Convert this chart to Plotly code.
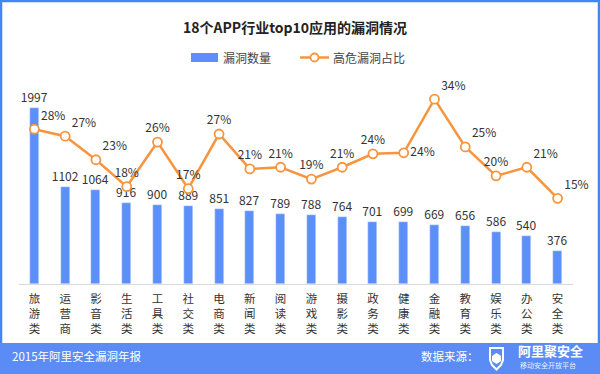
import plotly.graph_objects as go

categories = ["旅游类", "运营商", "影音类", "生活类", "工具类", "社交类", "电商类", "新闻类", "阅读类",
              "游戏类", "摄影类", "政务类", "健康类", "金融类", "教育类", "娱乐类", "办公类", "安全类"]
vuln_counts = [1997, 1102, 1064, 916, 900, 889, 851, 827, 789, 788, 764, 701, 699, 669, 656, 586, 540, 376]
high_risk_pct = [28.3, 27.0, 22.6, 17.6, 25.9, 17.2, 27.4, 20.9, 21.2, 19.0, 21.2, 23.7, 23.9, 33.9, 25.0, 19.6, 21.2, 15.4]
pct_text_pos = ["top right", "top right", "top right", "top center", "top center", "top center",
                "top center", "top center", "top center", "top center", "top center", "top center",
                "middle right", "top right", "top right", "top center", "top right", "top right"]

W, H = 600, 374
L, R, T, B = 19, 573, 90, 284
FONT = "Noto Sans CJK SC"
BAR = "#5b8ff9"
ORANGE = "#f7953f"
FOOT = "#5b8cf5"
BORDER = "#3f87f6"


def px(x):
    return (x - L) / (R - L)


def py(y):
    return (B - y) / (B - T)


fig = go.Figure()
fig.add_trace(go.Bar(
    x=categories, y=vuln_counts, name="漏洞数量", marker_color=BAR, width=0.29,
    text=[str(v) for v in vuln_counts], textposition="outside", constraintext="none",
    textfont=dict(size=12, color="#333333", family=FONT), cliponaxis=False,
))
fig.add_trace(go.Scatter(
    x=categories, y=high_risk_pct, name="高危漏洞占比", yaxis="y2", mode="lines+markers+text",
    line=dict(color=ORANGE, width=2.5),
    marker=dict(size=9, color="white", line=dict(color=ORANGE, width=1.8)),
    texttemplate="%{y:.0f}%", textposition=pct_text_pos,
    textfont=dict(size=12, color="#333333", family=FONT), cliponaxis=False,
))

shapes = []
# footer band
shapes.append(dict(type="rect", xref="paper", yref="paper", x0=px(0), x1=px(600), y0=py(343), y1=py(375),
                   fillcolor=FOOT, line=dict(width=0), layer="below"))
# border
for (x0, y0, x1, y1) in [(0, 1, 600, 1), (1, 0, 1, 343), (599, 0, 599, 343)]:
    shapes.append(dict(type="line", xref="paper", yref="paper", x0=px(x0), x1=px(x1), y0=py(y0), y1=py(y1),
                       line=dict(color=BORDER, width=2.5)))
# legend
shapes.append(dict(type="rect", xref="paper", yref="paper", x0=px(191), x1=px(218), y0=py(53), y1=py(62),
                   fillcolor=BAR, line=dict(width=0)))
shapes.append(dict(type="line", xref="paper", yref="paper", x0=px(300), x1=px(329), y0=py(57.5), y1=py(57.5),
                   line=dict(color=ORANGE, width=2.5)))
shapes.append(dict(type="circle", xref="paper", yref="paper", x0=px(310.5), x1=px(318.5), y0=py(53.5), y1=py(61.5),
                   fillcolor="white", line=dict(color=ORANGE, width=1.8)))


def path_px(pts):
    return "M " + " L ".join(f"{px(a):.5f},{py(b):.5f}" for a, b in pts) + " Z"


# logo shield
shield = [(490, 348), (503, 348), (503, 360), (501, 365), (496.5, 369.5), (492, 365), (490, 360)]
shapes.append(dict(type="path", xref="paper", yref="paper", path=path_px(shield),
                   line=dict(color="white", width=2), fillcolor=FOOT))
hexagon = [(496.5, 353.5), (500.5, 356), (500.5, 361), (496.5, 363.5), (492.5, 361), (492.5, 356)]
shapes.append(dict(type="path", xref="paper", yref="paper", path=path_px(hexagon),
                   line=dict(color="white", width=1), fillcolor="white"))


def ann(text, x, y, size, color, xanchor="left", yanchor="middle"):
    return dict(text=text, x=px(x), y=py(y), xref="paper", yref="paper", xanchor=xanchor, yanchor=yanchor,
                showarrow=False, font=dict(size=size, color=color, family=FONT))


annotations = [
    ann("<b>18个APP行业top10应用的漏洞情况</b>", 295, 27, 14, "#222222", xanchor="center"),
    ann("漏洞数量", 221, 57.5, 12, "#444444"),
    ann("高危漏洞占比", 331, 57.5, 12, "#444444"),
    ann("2015年阿里安全漏洞年报", 10, 356, 11.5, "white"),
    ann("数据来源：", 419, 356, 11.5, "white"),
    ann("<b>阿里聚安全</b>", 516, 350, 13, "white"),
    ann("移动安全开放平台", 518, 364.5, 7, "#e6eeff"),
]

fig.update_layout(
    width=W, height=H, autosize=False,
    margin=dict(l=L, r=W - R, t=T, b=H - B, pad=0),
    paper_bgcolor="white", plot_bgcolor="white",
    showlegend=False, bargap=0,
    font=dict(family=FONT, color="#333333"),
    xaxis=dict(range=[-0.5, 17.5], showline=True, linecolor="#d9d9d9", linewidth=1, ticks="",
               tickvals=categories, ticktext=["<br>".join(c) for c in categories],
               tickfont=dict(size=11.5, color="#333333", family=FONT), ticklabelstandoff=4,
               showgrid=False, zeroline=False),
    yaxis=dict(range=[0, 2201], visible=False, showgrid=False),
    yaxis2=dict(range=[-0.57, 35.61], overlaying="y", visible=False, showgrid=False),
    shapes=shapes, annotations=annotations,
)

fig.write_html("out.html", config={"displayModeBar": False},
               post_script="document.body.style.margin='0';document.body.style.overflow='hidden';")
